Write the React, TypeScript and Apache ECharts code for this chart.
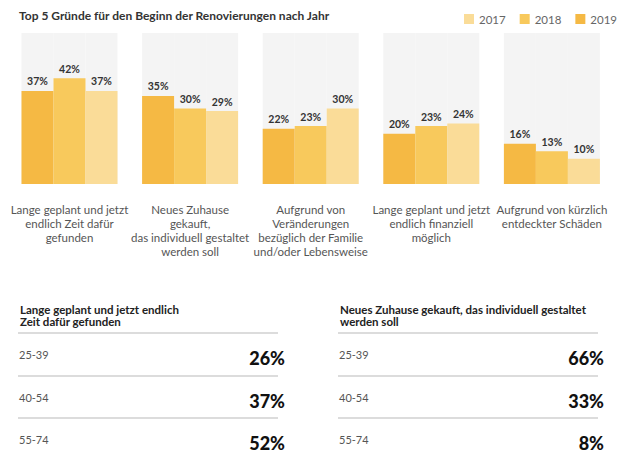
import React, { useEffect, useRef } from "react";
import * as echarts from "echarts";

const TITLE = "Top 5 Gründe für den Beginn der Renovierungen nach Jahr";
const categories = [
  "Lange geplant und jetzt\nendlich Zeit dafür\ngefunden",
  "Neues Zuhause\ngekauft,\ndas individuell gestaltet\nwerden soll",
  "Aufgrund von\nVeränderungen\nbezüglich der Familie\nund/oder Lebensweise",
  "Lange geplant und jetzt\nendlich finanziell\nmöglich",
  "Aufgrund von kürzlich\nentdeckter Schäden",
];
const years = ["2019", "2018", "2017"];
const values2019 = [37, 35, 22, 20, 16];
const values2018 = [42, 30, 23, 23, 13];
const values2017 = [37, 29, 30, 24, 10];
const legendOrder = ["2017", "2018", "2019"];
const yearColors = { "2019": "#F5B944", "2018": "#F8C95C", "2017": "#FADC98" };

const ageGroups = ["25-39", "40-54", "55-74"];
const tableTitles = [
  "Lange geplant und jetzt endlich\nZeit dafür gefunden",
  "Neues Zuhause gekauft, das individuell gestaltet\nwerden soll",
];
const tableValuesA = [26, 37, 52];
const tableValuesB = [66, 33, 8];

const FONT = "Lato, 'Open Sans', sans-serif";

export default function App() {
  const ref = useRef<HTMLDivElement>(null);
  useEffect(() => {
    document.body.style.margin = "0";
    const chart = echarts.init(ref.current!, null, { renderer: "svg" });
    const seriesValues = [values2019, values2018, values2017];

    const tables = [
      { title: tableTitles[0], values: tableValuesA, x0: 18, x1: 278, textX: 19, right: 285 },
      { title: tableTitles[1], values: tableValuesB, x0: 338, x1: 598, textX: 339, right: 604 },
    ];
    const sepY = [333, 376, 418];
    const graphics: any[] = [];
    tables.forEach((t) => {
      graphics.push({
        type: "text",
        x: t.textX + 1,
        y: 303,
        style: {
          text: t.title,
          fontSize: 11.5,
          fontWeight: "bold",
          fontFamily: FONT,
          fill: "#222",
          lineHeight: 12,
        },
      });
      ageGroups.forEach((g, i) => {
        const y = sepY[i];
        graphics.push({
          type: "line",
          shape: { x1: t.x0, y1: y, x2: t.x1, y2: y },
          style: { stroke: "#d0d0d0", lineWidth: 1.5 },
        });
        graphics.push({
          type: "text",
          x: t.textX,
          y: y + 21,
          style: {
            text: g,
            fontSize: 11,
            fontFamily: FONT,
            fill: "#555",
            verticalAlign: "middle",
          },
        });
        graphics.push({
          type: "text",
          x: t.right,
          y: y + 25,
          style: {
            text: t.values[i] + "%",
            fontSize: 18,
            fontWeight: 900,
            fontFamily: FONT,
            fill: "#111",
            align: "right",
            verticalAlign: "middle",
          },
        });
      });
    });

    chart.setOption({
      animation: false,
      textStyle: { fontFamily: FONT },
      title: {
        text: TITLE,
        left: 19,
        top: 9,
        padding: 0,
        textStyle: { fontSize: 12, fontWeight: "bold", color: "#333", fontFamily: FONT },
      },
      legend: {
        data: legendOrder,
        left: 464,
        top: 13,
        padding: 0,
        icon: "rect",
        itemWidth: 10,
        itemHeight: 10,
        itemGap: 14,
        textStyle: { fontSize: 11.5, color: "#666", fontFamily: FONT },
      },
      grid: { left: 9.2, top: 33, width: 603, height: 151, containLabel: false },
      xAxis: {
        type: "category",
        data: categories,
        axisLine: { show: false },
        axisTick: { show: false },
        axisLabel: {
          interval: 0,
          margin: 18,
          fontSize: 11.5,
          lineHeight: 14,
          color: "#555",
          fontFamily: FONT,
          verticalAlign: "top",
        },
      },
      yAxis: {
        type: "value",
        min: 0,
        max: 60,
        show: false,
        splitLine: { show: false },
      },
      series: years.map((y, i) => ({
        name: y,
        type: "bar",
        data: seriesValues[i],
        barGap: "0%",
        barCategoryGap: "20.4%",
        itemStyle: { color: (yearColors as any)[y] },
        showBackground: true,
        backgroundStyle: { color: "#F4F4F4" },
        label: {
          show: true,
          position: "top",
          distance: 4,
          formatter: "{c}%",
          fontSize: 10.5,
          fontWeight: "bold",
          color: "#333",
          fontFamily: FONT,
        },
      })),
      graphic: graphics,
    });
    return () => chart.dispose();
  }, []);
  return <div ref={ref} style={{ width: 618, height: 459 }} />;
}
